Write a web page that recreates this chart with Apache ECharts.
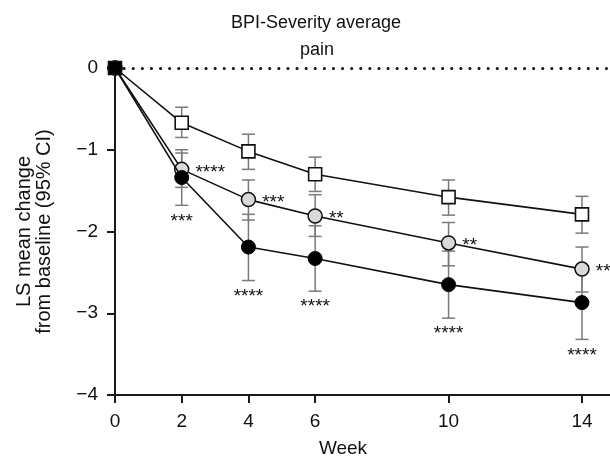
<!DOCTYPE html>
<html>
<head>
<meta charset="utf-8">
<script src="https://cdn.jsdelivr.net/npm/echarts@6/dist/echarts.min.js"></script>
<style>html,body{margin:0;padding:0;background:#fff}#c{width:610px;height:460px}</style>
</head>
<body>
<div id="c"></div>
<script>
var weeks = [0, 2, 4, 6, 10, 14];
var xTicks = [0, 2, 4, 6, 10, 14];
var yTicks = [0, -1, -2, -3, -4];

var placeboMean = [0, -0.67, -1.02, -1.30, -1.58, -1.79];
var placeboHi   = [0, -0.48, -0.81, -1.09, -1.37, -1.57];
var placeboLo   = [0, -0.85, -1.24, -1.51, -1.80, -2.02];

var greyMean = [0, -1.24, -1.61, -1.81, -2.14, -2.46];
var greyHi   = [0, -1.00, -1.37, -1.55, -1.89, -2.19];
var greyLo   = [0, -1.46, -1.86, -2.06, -2.42, -2.74];
var greySig  = ['', '****', '***', '**', '**', '***'];

var blackMean = [0, -1.34, -2.19, -2.33, -2.65, -2.87];
var blackHi   = [0, -1.04, -1.79, -1.93, -2.24, -2.42];
var blackLo   = [0, -1.68, -2.60, -2.73, -3.06, -3.32];
var blackSig  = ['', '***', '****', '****', '****', '****'];

var FONT = 'Liberation Sans, Arial, sans-serif';
var chart = echarts.init(document.getElementById('c'), null, {renderer: 'canvas'});

function errRows(mean, hi, lo) {
  return weeks.map(function (w, i) { return [w, hi[i], lo[i]]; });
}
function errSeries(rows) {
  return {
    type: 'custom', z: 1, silent: true,
    data: rows,
    renderItem: function (params, api) {
      var hiV = api.value(1), loV = api.value(2);
      if (hiV === loV) return null;
      var a = api.coord([api.value(0), hiV]);
      var b = api.coord([api.value(0), loV]);
      var w = 6.5;
      var st = {stroke: '#7a7a7a', lineWidth: 1.5};
      return {type: 'group', children: [
        {type: 'line', shape: {x1: a[0], y1: a[1], x2: b[0], y2: b[1]}, style: st},
        {type: 'line', shape: {x1: a[0]-w, y1: a[1], x2: a[0]+w, y2: a[1]}, style: st},
        {type: 'line', shape: {x1: b[0]-w, y1: b[1], x2: b[0]+w, y2: b[1]}, style: st}
      ]};
    }
  };
}

var greyData = weeks.map(function (w, i) {
  return {value: [w, greyMean[i]], label: {show: !!greySig[i], formatter: greySig[i]}};
});
var blackData = weeks.map(function (w, i) { return [w, blackMean[i]]; });
var placeboData = weeks.map(function (w, i) {
  var d = {value: [w, placeboMean[i]]};
  if (i === 0) d.itemStyle = {color: '#000'};
  return d;
});
var blackSigRows = weeks.map(function (w, i) { return [w, blackLo[i], i]; });

var option = {
  animation: false,
  backgroundColor: '#fff',
  grid: {left: 115, right: 0, top: 68, bottom: 65, containLabel: false, outerBoundsMode: 'none'},
  xAxis: {
    type: 'value', min: 0, max: 14.84,
    axisLine: {show: true, onZero: false, lineStyle: {color: '#1a1a1a', width: 2}},
    axisTick: {show: true, length: 8, customValues: xTicks, lineStyle: {color: '#1a1a1a', width: 2}},
    axisLabel: {customValues: xTicks, margin: 17, color: '#111', fontSize: 19, fontFamily: FONT},
    splitLine: {show: false}
  },
  yAxis: {
    type: 'value', min: -4, max: 0, interval: 1,
    name: 'LS mean change\nfrom baseline (95% CI)',
    nameLocation: 'middle', nameRotate: 90, nameGap: 61,
    nameTextStyle: {fontSize: 20, fontFamily: FONT, color: '#111', lineHeight: 20},
    axisLine: {show: true, lineStyle: {color: '#1a1a1a', width: 2}},
    axisTick: {show: true, length: 8, lineStyle: {color: '#1a1a1a', width: 2}},
    axisLabel: {margin: 17, color: '#111', fontSize: 19, fontFamily: FONT,
      formatter: function (v) { return v < 0 ? '\u2212' + Math.abs(v) : String(v); }},
    splitLine: {show: false}
  },
  graphic: [
    {type: 'text', x: 316, y: 23, style: {text: 'BPI-Severity average', fontSize: 18, fontFamily: FONT, fill: '#111', textAlign: 'center', textVerticalAlign: 'middle'}},
    {type: 'text', x: 317, y: 50, style: {text: 'pain', fontSize: 18, fontFamily: FONT, fill: '#111', textAlign: 'center', textVerticalAlign: 'middle'}},
    {type: 'text', x: 343, y: 449, style: {text: 'Week', fontSize: 19, fontFamily: FONT, fill: '#111', textAlign: 'center', textVerticalAlign: 'middle'}}
  ],
  series: [
    errSeries(errRows(placeboMean, placeboHi, placeboLo)),
    errSeries(errRows(greyMean, greyHi, greyLo)),
    errSeries(errRows(blackMean, blackHi, blackLo)),
    {
      type: 'line', z: 3, data: greyData,
      symbol: 'circle', symbolSize: 14,
      lineStyle: {color: '#111', width: 1.6},
      itemStyle: {color: '#d9d9d9', borderColor: '#111', borderWidth: 1.5},
      label: {position: 'right', distance: 6, offset: [0, 3], fontSize: 19, fontFamily: FONT, color: '#111'},
      markLine: {
        silent: true, symbol: 'none', label: {show: false},
        lineStyle: {color: '#111', width: 3, type: [0.1, 9], cap: 'round'},
        data: [{yAxis: 0}]
      }
    },
    {
      type: 'line', z: 4, data: blackData,
      symbol: 'circle', symbolSize: 14,
      lineStyle: {color: '#111', width: 1.6},
      itemStyle: {color: '#000', borderColor: '#000', borderWidth: 1}
    },
    {
      type: 'line', z: 5, data: placeboData,
      symbol: 'rect', symbolSize: 13,
      lineStyle: {color: '#111', width: 1.6},
      itemStyle: {color: '#fff', borderColor: '#111', borderWidth: 1.6}
    },
    {
      type: 'custom', z: 6, silent: true, data: blackSigRows,
      renderItem: function (params, api) {
        var idx = api.value(2);
        var s = blackSig[idx];
        if (!s) return null;
        var p = api.coord([api.value(0), api.value(1)]);
        return {type: 'text', x: p[0], y: p[1] + 16,
          style: {text: s, fontSize: 19, fontFamily: FONT, fill: '#111', textAlign: 'center', textVerticalAlign: 'middle'}};
      }
    }
  ]
};
chart.setOption(option);
</script>
</body>
</html>
